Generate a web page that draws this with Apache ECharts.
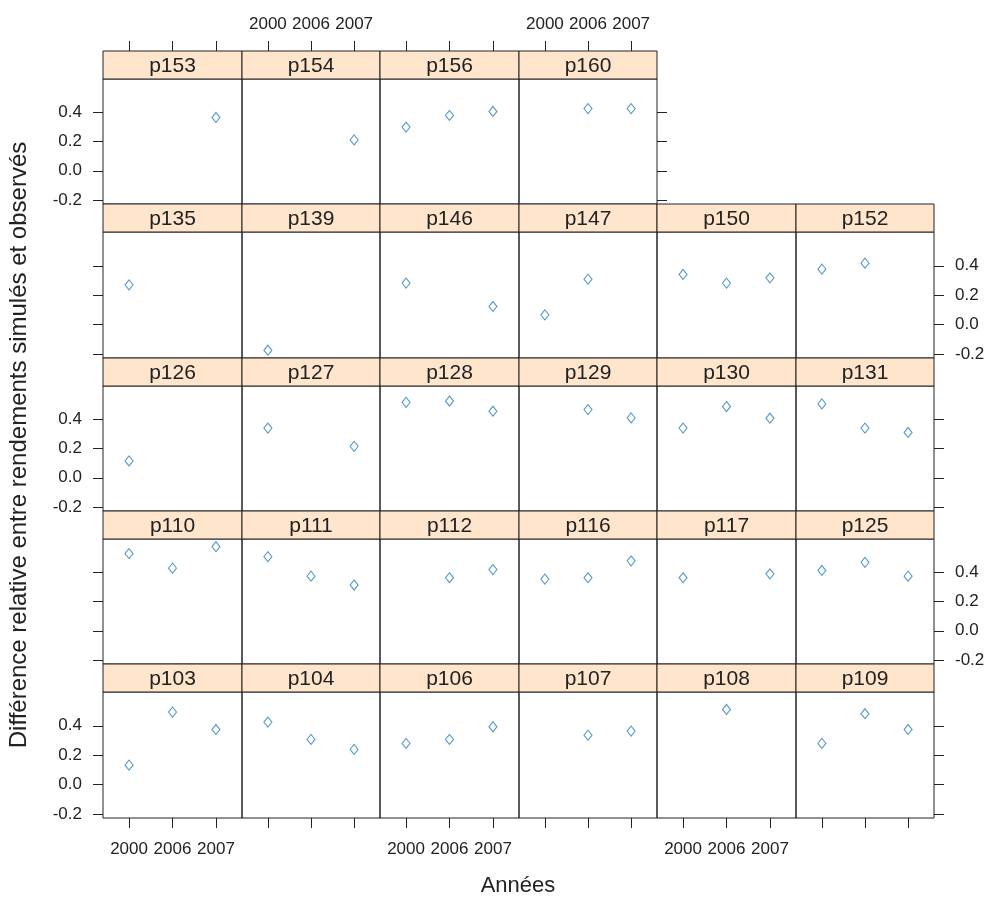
<!DOCTYPE html>
<html><head><meta charset="utf-8">
<script src="https://cdn.jsdelivr.net/npm/echarts@6/dist/echarts.min.js"></script>
<style>html,body{margin:0;padding:0;background:#fff}#c{width:989px;height:899px}</style>
</head><body><div id="c"></div>
<script>
// ---- data ----
const years = ['2000', '2006', '2007'];
const yTicks = [-0.2, 0.0, 0.2, 0.4];
const row1 = ['p153', 'p154', 'p156', 'p160'];
const row2 = ['p135', 'p139', 'p146', 'p147', 'p150', 'p152'];
const row3 = ['p126', 'p127', 'p128', 'p129', 'p130', 'p131'];
const row4 = ['p110', 'p111', 'p112', 'p116', 'p117', 'p125'];
const row5 = ['p103', 'p104', 'p106', 'p107', 'p108', 'p109'];

const p153 = [null, null, 0.366];
const p154 = [null, null, 0.212];
const p156 = [0.300, 0.380, 0.407];
const p160 = [null, 0.427, 0.427];

const p135 = [0.270, null, null];
const p139 = [-0.175, null, null];
const p146 = [0.282, null, 0.123];
const p147 = [0.066, 0.309, null];
const p150 = [0.341, 0.282, 0.318];
const p152 = [0.377, 0.418, null];

const p126 = [0.116, null, null];
const p127 = [0.341, null, 0.216];
const p128 = [0.518, 0.527, 0.457];
const p129 = [null, 0.468, 0.411];
const p130 = [0.341, 0.489, 0.409];
const p131 = [0.507, 0.341, 0.311];

const p110 = [0.530, 0.430, 0.577];
const p111 = [0.509, 0.375, 0.314];
const p112 = [null, 0.364, 0.420];
const p116 = [0.355, 0.364, 0.480];
const p117 = [0.364, null, 0.391];
const p125 = [0.414, 0.470, 0.375];

const p103 = [0.132, 0.493, 0.375];
const p104 = [0.425, 0.307, 0.239];
const p106 = [0.280, 0.307, 0.393];
const p107 = [null, 0.336, 0.364];
const p108 = [null, 0.511, null];
const p109 = [0.280, 0.482, 0.375];

const values = {p153,p154,p156,p160,p135,p139,p146,p147,p150,p152,p126,p127,p128,p129,p130,p131,
  p110,p111,p112,p116,p117,p125,p103,p104,p106,p107,p108,p109};
const rows = [row1, row2, row3, row4, row5];

// ---- layout ----
const FONT = '"Liberation Sans", Arial, sans-serif';
const L = 103, T = 51, CW = 138.5, RH = 153.3, SH = 27.5;
const INK = '#222';
const PT = '#2a7fb5';
const xEdge = c => Math.round(L + c * CW);
const yEdge = r => Math.round(T + r * RH);

const grid = [], xAxis = [], yAxis = [], series = [], graphic = [];
let gi = 0;
rows.forEach((names, r) => {
  const last = names.length - 1;
  names.forEach((name, c) => {
    const left = xEdge(c), right = xEdge(c + 1);
    const top = yEdge(r), bottom = yEdge(r + 1);
    const stripB = Math.round(top + SH);
    grid.push({left: left, top: stripB, width: right - left, height: bottom - stripB,
      show: true, borderColor: INK, borderWidth: 1, backgroundColor: 'transparent'});
    const isTop = r === 0, isBottom = r === rows.length - 1;
    const xLabel = isTop ? (c % 2 === 1) : (c % 2 === 0);
    xAxis.push({gridIndex: gi, type: 'value', min: 0.4, max: 3.6,
      show: isTop || isBottom, position: isTop ? 'top' : 'bottom',
      offset: isTop ? (stripB - top) : 0,
      axisLine: {show: false, onZero: false}, splitLine: {show: false},
      axisTick: {show: true, length: 10, customValues: [1, 2, 3], lineStyle: {color: INK, width: 1}},
      axisLabel: {show: xLabel, customValues: [1, 2, 3], formatter: v => years[Math.round(v) - 1],
        margin: isTop ? 18 : 23, fontSize: 17, color: INK, fontFamily: FONT}});
    const yShow = c === 0 || c === last;
    const yLabel = c === 0 ? (r % 2 === 0) : (r % 2 === 1);
    yAxis.push({gridIndex: gi, type: 'value', min: -0.228, max: 0.630,
      show: yShow, position: c === 0 ? 'left' : 'right',
      axisLine: {show: false, onZero: false}, splitLine: {show: false},
      axisTick: {show: true, length: 10, customValues: yTicks, lineStyle: {color: INK, width: 1}},
      axisLabel: {show: yLabel, customValues: yTicks, formatter: v => v.toFixed(1),
        margin: 21, fontSize: 17, color: INK, fontFamily: FONT}});
    const vals = values[name];
    const data = [];
    vals.forEach((v, i) => { if (v !== null) data.push([i + 1, v]); });
    series.push({type: 'scatter', xAxisIndex: gi, yAxisIndex: gi, data: data,
      symbol: 'diamond', symbolSize: [8, 10], silent: true,
      itemStyle: {color: 'transparent', borderColor: PT, borderWidth: 1.1}});
    graphic.push({type: 'rect', shape: {x: left, y: top, width: right - left, height: stripB - top},
      style: {fill: '#ffe5cc', stroke: INK, lineWidth: 1}, z: 10});
    graphic.push({type: 'text', x: (left + right) / 2, y: (top + stripB) / 2 + 1,
      style: {text: name, fill: INK, font: '21px ' + FONT, textAlign: 'center', textVerticalAlign: 'middle'}, z: 11});
    gi++;
  });
});
graphic.push({type: 'text', x: 518, y: 886,
  style: {text: 'Années', fill: INK, font: '22px ' + FONT, textAlign: 'center', textVerticalAlign: 'middle'}});
graphic.push({type: 'text', x: 19, y: 445, rotation: Math.PI / 2,
  style: {text: 'Différence relative entre rendements simulés et observés', fill: INK,
    font: '24px ' + FONT, textAlign: 'center', textVerticalAlign: 'middle'}});

const chart = echarts.init(document.getElementById('c'), null, {renderer: 'canvas'});
chart.setOption({animation: false, backgroundColor: '#fff', grid, xAxis, yAxis, series, graphic});
</script></body></html>
